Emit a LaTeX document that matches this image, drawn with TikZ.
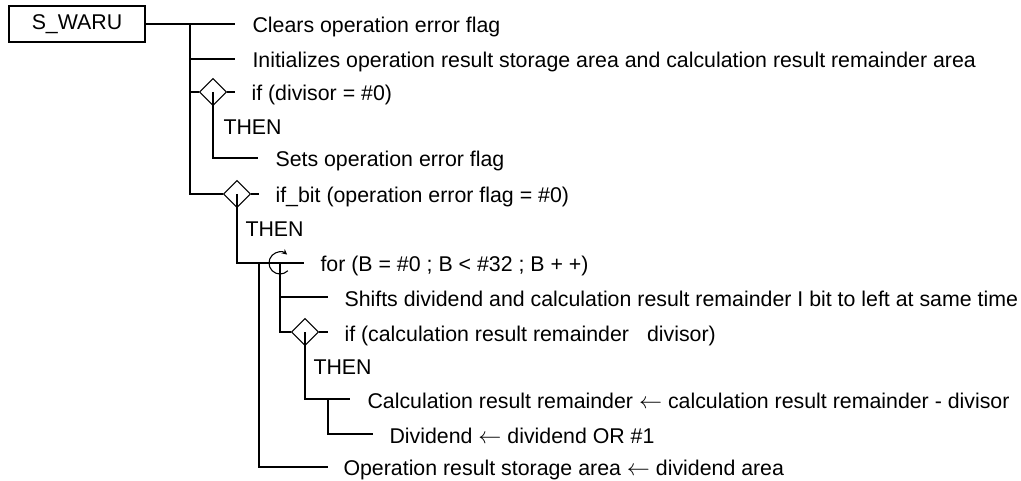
\documentclass[tikz,border=0pt]{standalone}
\usepackage{fontspec}
\setmainfont{Liberation Sans}
\usetikzlibrary{arrows.meta,shapes.geometric}

\begin{document}
\begin{tikzpicture}[x=0.75pt,y=0.75pt,line width=0.8pt,
  txt/.style={anchor=base west,inner sep=0pt,font=\fontsize{16}{19}\selectfont},
  cond/.style={diamond,draw,inner sep=0pt,minimum width=20.5pt,minimum height=20.5pt}]
  \useasboundingbox (0,0) rectangle (1021,-481);

  \node[rectangle,draw,line width=1.5pt,minimum width=102pt,minimum height=27pt,inner sep=0pt,font=\fontsize{16}{19}\selectfont] (waru) at (77,-24) {S\_WARU};

  \coordinate (t0) at (190,-24);
  \coordinate (e1) at (235,-24);
  \coordinate (e2) at (235,-59);
  \node[cond] (d1) at (213,-92) {};
  \coordinate (e3) at (235,-92);
  \coordinate (e4) at (258,-158);
  \node[cond] (d2) at (237,-194) {};
  \coordinate (e5) at (259,-194);
  \coordinate (loop) at (280,-263);
  \coordinate (e6) at (304,-263);
  \coordinate (j1) at (259,-263);
  \coordinate (e7) at (328,-297);
  \node[cond] (d3) at (305,-332) {};
  \coordinate (e8) at (328,-332);
  \coordinate (j2) at (328,-399);
  \coordinate (e9) at (350,-399);
  \coordinate (e10) at (373,-434);
  \coordinate (e11) at (328,-467);

  \node[txt] (clr) at (252,-33) {Clears operation error flag};
  \node[txt] (ini) at (252,-68) {Initializes operation result storage area and calculation result remainder area};
  \node[txt] (ifdiv) at (251,-101) {if (divisor = \#0)};
  \node[txt] (then1) at (223,-135) {THEN};
  \node[txt] (sets) at (275,-167) {Sets operation error flag};
  \node[txt] (ifbit) at (275,-203) {if\_bit (operation error flag = \#0)};
  \node[txt] (then2) at (245,-237) {THEN};
  \node[txt] (forb) at (320,-272) {for (B = \#0 ; B < \#32 ; B + +)};
  \node[txt] (shift) at (344,-306) {Shifts dividend and calculation result remainder I bit to left at same time};
  \node[txt] (ifrem) at (344,-341) {if (calculation result remainder\hspace{13.5pt}divisor)};
  \node[txt] (then3) at (313,-374) {THEN};
  \node[txt] (sub) at (367,-408) {Calculation result remainder $\leftarrow$ calculation result remainder - divisor};
  \node[txt] (orb) at (389,-443) {Dividend $\leftarrow$ dividend OR \#1};
  \node[txt] (store) at (343,-475) {Operation result storage area $\leftarrow$ dividend area};

  \draw (waru) -- (e1);
  \draw (t0) |- (d2.west);
  \draw (t0 |- e2) -- (e2);
  \draw (t0 |- d1) -- (d1.west);
  \draw (d1.east) -- (e3);
  \draw (d1.center) |- (e4);
  \draw (d2.east) -- (e5);
  \draw (d2.center) |- (e6);
  \draw (j1) |- (e11);
  \draw (loop) |- (d3.west);
  \draw (loop |- e7) -- (e7);
  \draw (d3.east) -- (e8);
  \draw (d3.center) |- (e9);
  \draw (j2) |- (e10);
  \draw[-{Stealth[length=4pt,width=4pt]}] ([shift={(-45:8.25pt)}]loop) arc[start angle=-45,end angle=-310,radius=8.25pt];
\end{tikzpicture}
\end{document}
